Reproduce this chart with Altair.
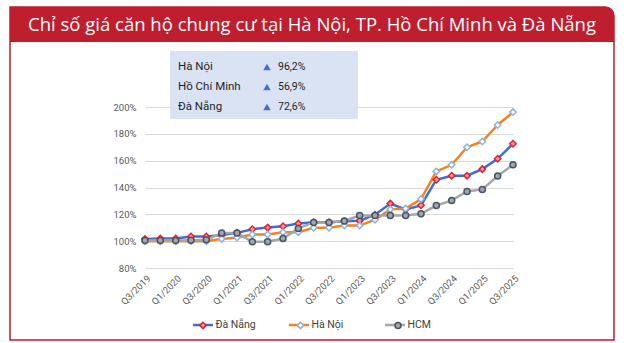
import altair as alt
import pandas as pd

# ---------------- data ----------------
quarters = ["Q3/2019", "Q4/2019", "Q1/2020", "Q2/2020", "Q3/2020", "Q4/2020",
            "Q1/2021", "Q2/2021", "Q3/2021", "Q4/2021", "Q1/2022", "Q2/2022",
            "Q3/2022", "Q4/2022", "Q1/2023", "Q2/2023", "Q3/2023", "Q4/2023",
            "Q1/2024", "Q2/2024", "Q3/2024", "Q4/2024", "Q1/2025", "Q2/2025",
            "Q3/2025"]
label_quarters = ["Q3/2019", "Q1/2020", "Q3/2020", "Q1/2021", "Q3/2021", "Q1/2022",
                  "Q3/2022", "Q1/2023", "Q3/2023", "Q1/2024", "Q3/2024", "Q1/2025",
                  "Q3/2025"]
da_nang = [101.7, 102.0, 102.0, 103.5, 103.5, 104.5, 106.2, 108.9, 110.1, 111.1,
           113.1, 114.1, 114.1, 114.8, 115.3, 119.7, 128.0, 123.7, 126.7, 145.8,
           148.8, 148.8, 153.7, 161.4, 172.6]
ha_noi = [100.0, 100.0, 100.0, 100.0, 100.0, 101.7, 102.7, 105.0, 105.0, 106.7,
          106.7, 110.0, 110.0, 111.6, 111.6, 116.0, 123.7, 124.3, 131.4, 152.0,
          156.9, 170.0, 174.3, 186.6, 196.2]
hcm = [100.5, 100.5, 100.5, 100.7, 101.0, 106.0, 106.0, 99.5, 99.5, 102.0,
       109.5, 114.0, 114.0, 115.0, 119.1, 119.1, 119.1, 119.1, 120.5, 126.5,
       130.4, 137.1, 138.6, 148.5, 156.9]
y_ticks = [80, 100, 120, 140, 160, 180, 200]

series_names = ["Đà Nẵng", "Hà Nội", "HCM"]
line_colors = ["#3a6fd8", "#f5821f", "#a6a6a6"]
marker_fills = ["#f59aa2", "#ffffff", "#a6a6a6"]
marker_strokes = ["#e3202c", "#8eb1e1", "#44546a"]
DIAMOND = "M-0.32,0L0,-0.32L0.32,0L0,0.32Z"
CIRCLE = "M-0.3,0A0.3,0.3,0,1,0,0.3,0A0.3,0.3,0,1,0,-0.3,0Z"
marker_shapes = [DIAMOND, DIAMOND, CIRCLE]

title_text = "Chỉ số giá căn hộ chung cư tại Hà Nội, TP. Hồ Chí Minh và Đà Nẵng"
info_names = ["Hà Nội", "Hồ Chí Minh", "Đà Nẵng"]
info_pcts = ["96,2%", "56,9%", "72,6%"]

RED = "#be1e2d"
FONT = "Roboto"

rows = []
for name, vals in zip(series_names, [da_nang, ha_noi, hcm]):
    for q, v in zip(quarters, vals):
        rows.append({"quarter": q, "series": name, "series_m": name, "value": v})
df = pd.DataFrame(rows)
info_df = pd.DataFrame({"name": info_names, "pct": info_pcts, "row": [0, 1, 2]})
one = pd.DataFrame({"k": [0]})

# ---------------- encodings ----------------
x_enc = alt.X("quarter:O", sort=quarters,
              scale=alt.Scale(type="point", padding=0),
              axis=alt.Axis(values=label_quarters, labelAngle=-45, labelFontSize=9.5,
                            labelFont=FONT, labelColor="#595959", domain=False,
                            ticks=False, grid=False, title=None, labelPadding=5))
y_enc = alt.Y("value:Q", scale=alt.Scale(domain=[80, 200], nice=False, zero=False),
              axis=alt.Axis(values=y_ticks, labelExpr="datum.value + '%'",
                            domain=False, ticks=False, grid=True, gridColor="#d9d9d9",
                            gridWidth=1.2, labelPadding=9, labelFontSize=9.5,
                            labelFont=FONT, labelColor="#595959", title=None))

line_legend = alt.Legend(orient="none", legendX=46.5, legendY=206.5,
                         direction="horizontal", gridAlign="all",
                         title=None, symbolType="stroke", symbolSize=400,
                         symbolStrokeWidth=2.5, labelFontSize=10.5, labelFont=FONT,
                         labelColor="#404040", labelOffset=1, columnPadding=27)
marker_legend = alt.Legend(orient="none", legendX=46.5, legendY=207,
                           direction="horizontal", gridAlign="all",
                           title=None, symbolSize=400, symbolStrokeWidth=1.5,
                           symbolOffset=0.5, labelExpr="''", labelFontSize=10.5,
                           labelOffset=0, columnPadding=74.5)

lines = alt.Chart(df).mark_line(strokeWidth=2.5).encode(
    x=x_enc, y=y_enc,
    color=alt.Color("series:N", sort=series_names,
                    scale=alt.Scale(range=line_colors), legend=line_legend),
)
points = alt.Chart(df).mark_point(filled=True, size=400, strokeWidth=1.5, opacity=1).encode(
    x=x_enc, y=y_enc,
    shape=alt.Shape("series_m:N",
                    scale=alt.Scale(domain=series_names, range=marker_shapes),
                    legend=marker_legend),
    fill=alt.Fill("series_m:N",
                  scale=alt.Scale(domain=series_names, range=marker_fills),
                  legend=marker_legend),
    stroke=alt.Stroke("series_m:N",
                      scale=alt.Scale(domain=series_names, range=marker_strokes),
                      legend=marker_legend),
)

# ---------------- decorations ----------------
frame = alt.Chart(one).mark_rect(fill="transparent", stroke=RED, strokeWidth=1.5,
                                 cornerRadiusTopRight=9).encode(
    x=alt.value(-135), x2=alt.value(469), y=alt.value(-100), y2=alt.value(233))
banner = alt.Chart(one).mark_rect(fill=RED, cornerRadiusTopRight=9).encode(
    x=alt.value(-135), x2=alt.value(469), y=alt.value(-100), y2=alt.value(-65))
title = alt.Chart(one).mark_text(text=title_text, font="Open Sans", fontSize=18.5,
                                 color="white", align="center", baseline="middle").encode(
    x=alt.value(167), y=alt.value(-82))

info_box = alt.Chart(one).mark_rect(fill="#dae3f3").encode(
    x=alt.value(25), x2=alt.value(213), y=alt.value(-56), y2=alt.value(12))
info_base = alt.Chart(info_df).transform_calculate(ypx="-40 + datum.row * 20")
info_names_l = info_base.mark_text(align="left", baseline="middle", font=FONT,
                                   fontSize=11.5, color="#1f1f1f").encode(
    x=alt.value(33), y=alt.Y("ypx:Q", scale=None), text="name:N")
info_tri = info_base.mark_point(shape="triangle-up", filled=True, size=55,
                                color="#4472c4", opacity=1).encode(
    x=alt.value(122), y=alt.Y("ypx:Q", scale=None))
info_pct = info_base.mark_text(align="left", baseline="middle", font=FONT,
                               fontSize=10.5, color="#1f1f1f").encode(
    x=alt.value(133), y=alt.Y("ypx:Q", scale=None), text="pct:N")

chart = alt.layer(
    frame, banner, title, lines, points, info_box, info_names_l, info_tri, info_pct
).properties(
    width=368, height=161,
    padding={"left": 145, "top": 107, "right": 111, "bottom": 75},
    autosize=alt.AutoSizeParams(type="none"),
    background="white",
).configure_view(strokeWidth=0)

chart.save("out.html", embed_options={"renderer": "svg", "actions": False})
